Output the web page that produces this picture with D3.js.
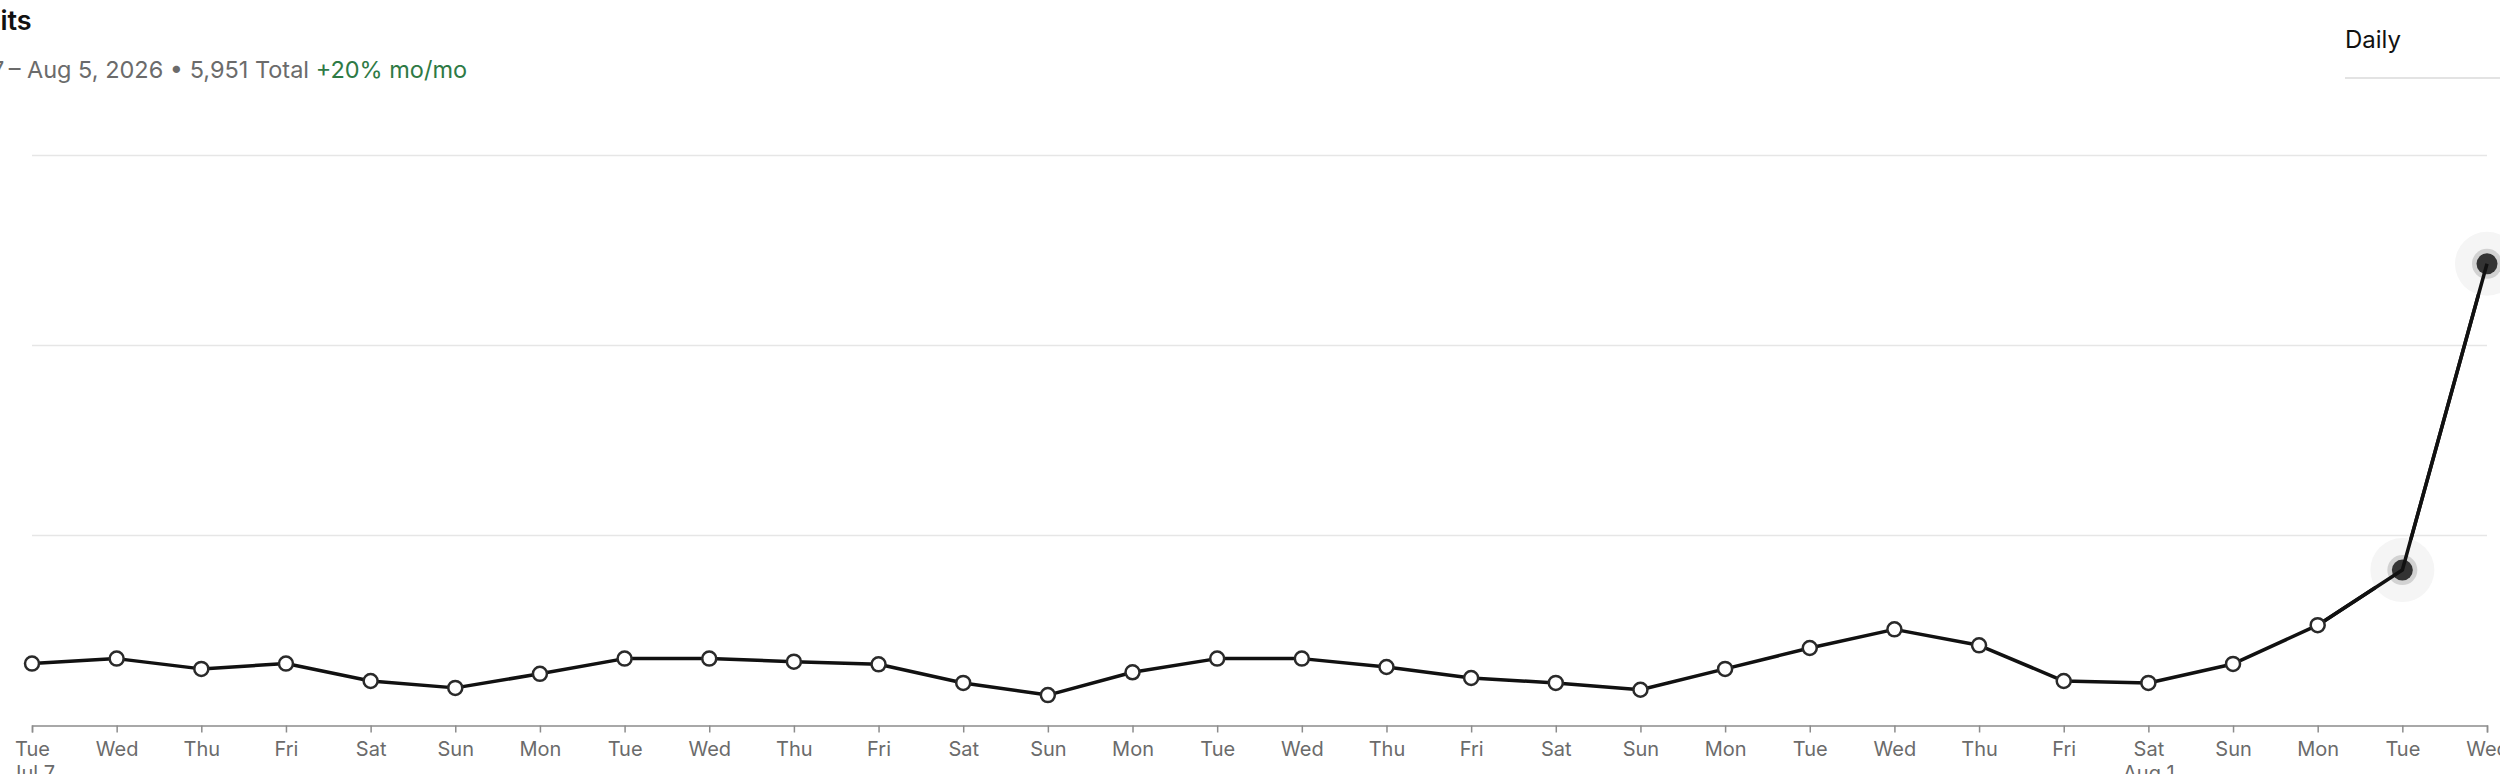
<!DOCTYPE html>
<html>
<head>
<meta charset="utf-8">
<script src="https://cdn.jsdelivr.net/npm/d3@7"></script>
<style>
  html, body { margin: 0; padding: 0; background: #fff; overflow: hidden; }
  svg { display: block; font-family: Inter, "Noto Sans", sans-serif; }
</style>
</head>
<body>
<svg id="chart" width="2500" height="774"></svg>
<script>
// ---- data ----
const titleText = "Visits";
const subtitleText = "Jul 7\u2009– Aug 5, 2026 • 5,951 Total ";
const changeText = "+20% mo/mo";
const periodLabel = "Daily";
const dayLabels = ["Tue","Wed","Thu","Fri","Sat","Sun","Mon","Tue","Wed","Thu","Fri","Sat","Sun","Mon","Tue","Wed","Thu","Fri","Sat","Sun","Mon","Tue","Wed","Thu","Fri","Sat","Sun","Mon","Tue","Wed"];
const visits = [163,176,149,163,117,99,136,176,176,168,161,112,80,140,176,176,154,125,112,94,149,204,253,211,117,112,162,264,409,1215];
const monthTickIndex = [0, 25];
const monthTickLabels = ["Jul 7", "Aug 1"];
const highlightIndex = [28, 29];
const yGridValues = [500, 1000, 1500];

// ---- layout ----
const svg = d3.select("#chart");
const W = 2500, H = 774;
const xLeft = 32, xRight = 2487, yBottom = 725.5, yTop = 155.5;

const idx = d3.range(dayLabels.length);
const x = d3.scalePoint().domain(idx).range([xLeft, xRight]).padding(0);
const y = d3.scaleLinear().domain([0, 1500]).range([yBottom, yTop]);

// title (partly off the left edge, as in the reference)
const title = svg.append("text")
  .attr("y", 30)
  .attr("font-size", 27)
  .attr("font-weight", 600)
  .attr("fill", "#111")
  .text(titleText);
const preW = title.node().getSubStringLength(0, 3);
title.attr("x", -preW + 0.5);

const sub = svg.append("text")
  .attr("y", 78)
  .attr("font-size", 23.5)
  .attr("fill", "#6b6b6b");
sub.append("tspan").text(subtitleText);
sub.append("tspan").attr("fill", "#2e7a45").text(changeText);
const subPre = sub.node().getSubStringLength(0, 8);
sub.attr("x", 27 - subPre);

// period selector
svg.append("text")
  .attr("x", 2345).attr("y", 48)
  .attr("font-size", 24)
  .attr("fill", "#111")
  .text(periodLabel);
svg.append("line")
  .attr("x1", 2345).attr("x2", W)
  .attr("y1", 78).attr("y2", 78)
  .attr("stroke", "#e3e3e3").attr("stroke-width", 2);

// gridlines
svg.append("g").selectAll("line")
  .data(yGridValues)
  .join("line")
  .attr("x1", xLeft).attr("x2", xRight)
  .attr("y1", d => y(d)).attr("y2", d => y(d))
  .attr("stroke", "#e6e6e6").attr("stroke-width", 1.5);

// x axis
const xAxis = d3.axisBottom(x)
  .tickSize(7)
  .tickPadding(9)
  .tickFormat(i => dayLabels[i]);
const gx = svg.append("g")
  .attr("transform", `translate(0,${yBottom})`)
  .call(xAxis);
gx.select(".domain").attr("stroke", "#8c8c8c").attr("stroke-width", 1.5);
gx.selectAll(".tick line").attr("stroke", "#8c8c8c").attr("stroke-width", 1.5);
gx.selectAll(".tick text")
  .attr("fill", "#6b6b6b")
  .attr("font-size", 20)
  .attr("font-family", "Inter, 'Noto Sans', sans-serif");
gx.selectAll(".tick").filter(i => monthTickIndex.includes(i))
  .append("text")
  .attr("fill", "#6b6b6b")
  .attr("font-size", 20)
  .attr("font-family", "Inter, 'Noto Sans', sans-serif")
  .attr("text-anchor", "middle")
  .attr("y", 16 + 24)
  .attr("dy", "0.71em")
  .text(i => monthTickLabels[monthTickIndex.indexOf(i)]);

// line
const line = d3.line().x((d, i) => x(i)).y(d => y(d));
svg.append("path")
  .datum(visits)
  .attr("d", line)
  .attr("fill", "none")
  .attr("stroke", "#111")
  .attr("stroke-width", 3.5)
  .attr("stroke-linejoin", "round");

// highlight halos
const hl = svg.append("g").selectAll("g")
  .data(highlightIndex)
  .join("g")
  .attr("transform", i => `translate(${x(i)},${y(visits[i])})`);
hl.append("circle").attr("r", 32).attr("fill", "#f5f5f5");
hl.append("circle").attr("r", 15).attr("fill", "#d2d2d2");

// redraw line segment into highlighted points over the halos
svg.append("path")
  .datum(visits.slice(27))
  .attr("d", d3.line().x((d, i) => x(i + 27)).y(d => y(d)))
  .attr("fill", "none")
  .attr("stroke", "#111")
  .attr("stroke-width", 3.5)
  .attr("stroke-linejoin", "round");

hl.append("circle").attr("r", 10.5).attr("fill", "#333");

// normal markers
svg.append("g").selectAll("circle")
  .data(idx.filter(i => !highlightIndex.includes(i)))
  .join("circle")
  .attr("cx", i => x(i))
  .attr("cy", i => y(visits[i]))
  .attr("r", 7)
  .attr("fill", "#fff")
  .attr("stroke", "#2a2a2a")
  .attr("stroke-width", 2.5);
</script>
</body>
</html>
